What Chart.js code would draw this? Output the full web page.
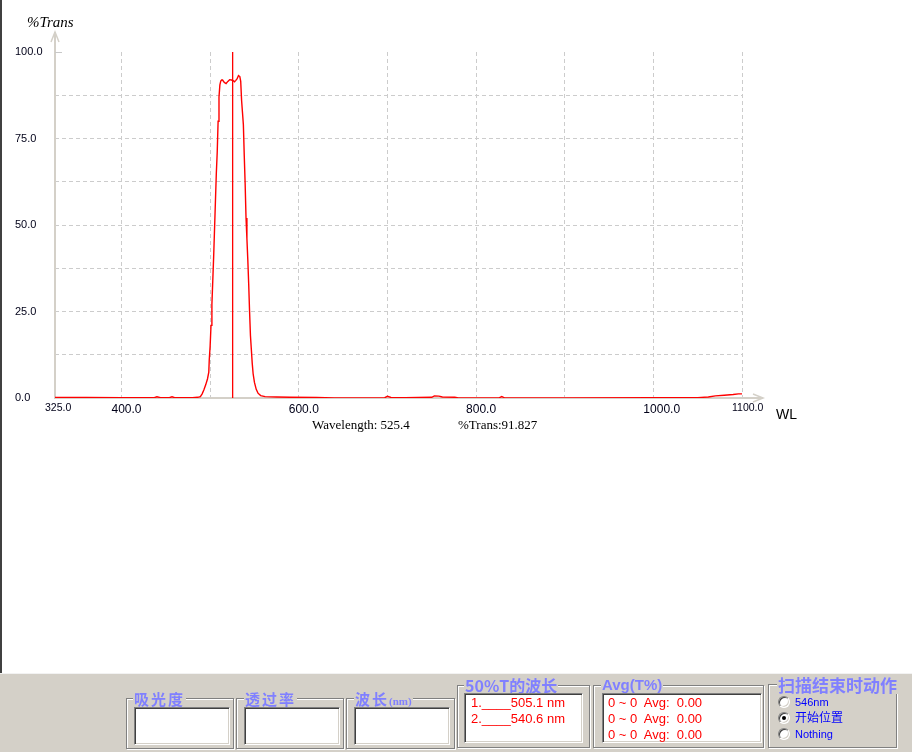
<!DOCTYPE html>
<html><head><meta charset="utf-8">
<script src="https://cdn.jsdelivr.net/npm/chart.js@4.4.1/dist/chart.umd.min.js"></script>
<style>
html,body{margin:0;padding:0;}
body{width:912px;height:752px;background:#d4d0c8;position:relative;overflow:hidden;font-family:"Liberation Sans",Arial,sans-serif;}
#plot{position:absolute;left:0;top:0;width:912px;height:673px;background:#fff;}
#edge{position:absolute;left:0;top:0;width:2px;height:673px;background:#404040;}
#sep{position:absolute;left:0;top:673px;width:912px;height:1px;background:#f2f2f2;}
canvas{position:absolute;left:0;top:0;}
.t{position:absolute;white-space:pre;line-height:1;}
.gb{position:absolute;border:1px solid #808080;box-shadow:inset 1px 1px 0 #fff,1px 1px 0 #fff;}
.gt{position:absolute;background:#d4d0c8;color:#8080ff;font-weight:bold;white-space:pre;line-height:16px;padding:0 1px;font-family:"Noto Sans CJK SC","Liberation Sans",sans-serif;}
.ib{position:absolute;background:#fff;border-top:1px solid #808080;border-left:1px solid #808080;border-right:1px solid #fff;border-bottom:1px solid #fff;box-shadow:inset 1px 1px 0 #404040,inset -1px -1px 0 #d4d0c8;}
.rt{position:absolute;white-space:pre;font-size:13px;line-height:16px;color:#ff0000;font-family:"Liberation Sans",Arial,sans-serif;}
.rb{position:absolute;width:12px;height:12px;box-sizing:border-box;border-radius:50%;background:#fff;border:1px solid;border-color:#808080 #fff #fff #808080;box-shadow:inset 1px 1px 0 #404040,inset -1px -1px 0 #d4d0c8;}
.dot{position:absolute;left:3px;top:3px;width:4px;height:4px;border-radius:50%;background:#000;}
.rl{position:absolute;white-space:pre;font-size:11px;line-height:16px;color:#0000ff;font-family:"Liberation Sans","Noto Sans CJK SC",sans-serif;}
</style>
</head><body>
<div id="plot"></div>
<canvas id="c" width="912" height="673"></canvas>
<div id="edge"></div>
<div id="sep"></div>

<div class="t" style="left:27px;top:14px;font:italic 15px 'Liberation Serif',serif;">%Trans</div>
<div class="t" style="left:776px;top:406px;font:14px 'Liberation Sans',sans-serif;">WL</div>
<div class="t" id="cwl" style="left:312px;top:417px;font:13px 'Liberation Serif',serif;"></div>
<div class="t" id="ctr" style="left:458px;top:417px;font:13px 'Liberation Serif',serif;"></div>

<!-- group boxes -->
<div class="gb" style="left:126px;top:698px;width:106px;height:49px;"></div>
<div class="gt" style="left:133px;top:691px;font-size:15px;letter-spacing:2px;">吸光度</div>
<div class="ib" style="left:134px;top:707px;width:94px;height:36px;"></div>

<div class="gb" style="left:236px;top:698px;width:106px;height:49px;"></div>
<div class="gt" style="left:244px;top:691px;font-size:15px;letter-spacing:2px;">透过率</div>
<div class="ib" style="left:244px;top:707px;width:94px;height:36px;"></div>

<div class="gb" style="left:346px;top:698px;width:107px;height:49px;"></div>
<div class="gt" style="left:354px;top:691px;font-size:15px;letter-spacing:2px;">波长<span style="font-size:11px;letter-spacing:0;font-family:'Liberation Serif',serif;">(nm)</span></div>
<div class="ib" style="left:354px;top:707px;width:94px;height:36px;"></div>

<div class="gb" style="left:457px;top:685px;width:131px;height:61px;"></div>
<div class="gt" style="left:464px;top:677px;font-size:16px;">50%T的波长</div>
<div class="ib" style="left:464px;top:693px;width:117px;height:48px;"></div>
<div class="rt" id="h1" style="left:471px;top:695px;"></div>
<div class="rt" id="h2" style="left:471px;top:711px;"></div>

<div class="gb" style="left:593px;top:685px;width:169px;height:61px;"></div>
<div class="gt" style="left:601px;top:677px;font-size:15px;font-family:'Liberation Sans',sans-serif;">Avg(T%)</div>
<div class="ib" style="left:602px;top:693px;width:158px;height:48px;"></div>
<div class="rt" style="left:608px;top:695px;">0 ~ 0  Avg:  0.00</div>
<div class="rt" style="left:608px;top:711px;">0 ~ 0  Avg:  0.00</div>
<div class="rt" style="left:608px;top:727px;">0 ~ 0  Avg:  0.00</div>

<div class="gb" style="left:768px;top:684px;width:127px;height:62px;"></div>
<div class="gt" style="left:777px;top:676px;font-size:17px;line-height:18px;">扫描结束时动作</div>
<div class="rb" style="left:778px;top:696px;"></div>
<div class="rl" style="left:795px;top:694px;">546nm</div>
<div class="rb" style="left:778px;top:712px;"><div class="dot"></div></div>
<div class="rl" style="left:795px;top:710px;font-size:12px;">开始位置</div>
<div class="rb" style="left:778px;top:728px;"></div>
<div class="rl" style="left:795px;top:726px;">Nothing</div>

<script>
// ---- data ----
const wavelengths = [325,360,400,437,440,444,454,457,460,480,486,489,491,493,495,497,498.5,499,500,501,502,503,504,505,506,507,508,509,510,511,512,513,514,516,518,520,522,524,526,527.5,529,530.5,532,533.5,534.5,535.5,536.5,537.5,538.5,539.5,540.5,541.5,542.5,543.5,544.5,545.5,546.5,547.5,548.5,550,552,554,557,562,575,590,620,640,680,697,700,704,720,750,753,758,762,776,780,826,829,832,900,1000,1050,1062,1070,1080,1090,1096,1100];
const transmittance = [0.15,0.15,0.1,0.1,0.35,0.1,0.1,0.35,0.1,0.1,0.2,0.4,1.2,2.4,3.8,5.5,7.5,11,15,21,27,34,41,49,57,65,71,80,87,90.5,91.6,91.9,91.9,91.2,90.9,91.5,92.0,91.9,91.7,91.4,91.8,92.3,93.2,92.9,91.5,86,82.5,79,70,62,52,46,40,33,25,18,14,10,7,4.5,2.5,1.4,0.7,0.4,0.3,0.2,0.15,0.05,0.05,0.1,0.5,0.15,0.1,0.2,0.6,0.55,0.3,0.2,0.05,0.05,0.4,0.05,0.05,0.1,0.1,0.3,0.6,0.8,1.0,1.2,1.2];
const xTickValues = [325,400,500,600,700,800,900,1000,1100];
const xTickLabels = ['325.0','400.0','','600.0','','800.0','','1000.0','1100.0'];
const yTickValues = [0,12.5,25,37.5,50,62.5,75,87.5,100];
const yTickLabels = ['0.0','','25.0','','50.0','','75.0','','100.0'];
const cursorWavelength = 525.4;
const cursorTrans = 91.827;
const halfTWavelengths = [505.1, 540.6];

document.getElementById('cwl').textContent = 'Wavelength: ' + cursorWavelength.toFixed(1);
document.getElementById('ctr').textContent = '%Trans:' + cursorTrans.toFixed(3);
document.getElementById('h1').textContent = '1.____' + halfTWavelengths[0].toFixed(1) + ' nm';
document.getElementById('h2').textContent = '2.____' + halfTWavelengths[1].toFixed(1) + ' nm';

const axisPlugin = {
  id: 'axes',
  beforeDatasetsDraw(chart) {
    const {ctx, scales: {x, y}} = chart;
    const x0 = x.getPixelForValue(xTickValues[0]);
    const x1 = x.getPixelForValue(xTickValues[xTickValues.length - 1]);
    const y0 = y.getPixelForValue(0);
    const y1 = y.getPixelForValue(100);
    ctx.save();
    ctx.strokeStyle = '#d4d0c8';
    ctx.lineWidth = 2;
    ctx.beginPath(); ctx.moveTo(x0, y0 + 1); ctx.lineTo(x0, y1 - 20); ctx.stroke();
    ctx.beginPath(); ctx.moveTo(x0 - 1, y0); ctx.lineTo(x1 + 21, y0); ctx.stroke();
    ctx.lineWidth = 1.5;
    ctx.beginPath(); ctx.moveTo(x0 - 4, y1 - 10); ctx.lineTo(x0, y1 - 20); ctx.lineTo(x0 + 4, y1 - 10); ctx.stroke();
    ctx.beginPath(); ctx.moveTo(x1 + 11, y0 - 4); ctx.lineTo(x1 + 21, y0); ctx.lineTo(x1 + 11, y0 + 4); ctx.stroke();
    ctx.strokeStyle = '#c8c8c8';
    ctx.lineWidth = 1;
    ctx.beginPath(); ctx.moveTo(x0, Math.round(y1) + 0.5); ctx.lineTo(x0 + 7, Math.round(y1) + 0.5); ctx.stroke();
    ctx.restore();
  }
};

new Chart(document.getElementById('c'), {
  type: 'line',
  data: {
    datasets: [
      {
        data: wavelengths.map((w, i) => ({x: w, y: transmittance[i]})),
        borderColor: '#ff0000',
        borderWidth: 1.4,
        pointRadius: 0,
        tension: 0,
        fill: false
      },
      {
        data: [{x: cursorWavelength, y: 0}, {x: cursorWavelength, y: 100}],
        borderColor: '#ff0000',
        borderWidth: 1.3,
        pointRadius: 0,
        fill: false
      }
    ]
  },
  options: {
    responsive: false,
    animation: false,
    devicePixelRatio: 1,
    layout: {padding: {left: 15, top: 52, right: 170, bottom: 245}},
    plugins: {legend: {display: false}, tooltip: {enabled: false}},
    scales: {
      x: {
        type: 'linear', min: 325, max: 1100,
        afterBuildTicks: s => { s.ticks = xTickValues.map(v => ({value: v})); },
        afterFit: s => { s.height = 30; },
        grid: {drawTicks: false, lineWidth: 1,
          color: c => (c.tick && c.tick.value === 325) ? 'rgba(0,0,0,0)' : '#cccccc'},
        border: {display: false, dash: [4, 3]},
        ticks: {
          align: 'start', labelOffset: -10, padding: 4, maxRotation: 0, autoSkip: false,
          color: '#000018',
          font: c => ({family: "'Liberation Sans', Arial, sans-serif",
            size: (c.tick && (c.tick.value === 325 || c.tick.value === 1100)) ? 10.5 : 12}),
          callback: (v, i) => xTickLabels[i]
        }
      },
      y: {
        min: 0, max: 100,
        afterBuildTicks: s => { s.ticks = yTickValues.map(v => ({value: v})); },
        afterFit: s => { s.width = 40; },
        grid: {drawTicks: false, lineWidth: 1,
          color: c => (c.tick && (c.tick.value === 0 || c.tick.value === 100)) ? 'rgba(0,0,0,0)' : '#cccccc'},
        border: {display: false, dash: [4, 3]},
        ticks: {
          crossAlign: 'far', padding: 0, autoSkip: false, color: '#000018',
          font: {family: "'Liberation Sans', Arial, sans-serif", size: 11},
          callback: (v, i) => yTickLabels[i]
        }
      }
    }
  },
  plugins: [axisPlugin]
});
</script>
</body></html>
